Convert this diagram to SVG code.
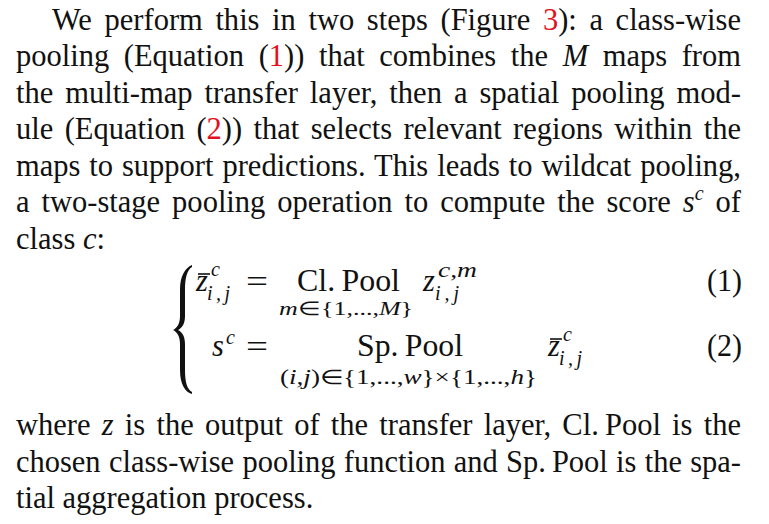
<svg xmlns="http://www.w3.org/2000/svg" width="769" height="524" viewBox="0 0 769 524">
<style>
.t{font-family:"Liberation Serif","Times New Roman",serif;font-size:30.5px;fill:#111}
.i{font-style:italic}
.r{fill:#e3101e}
.s{font-size:20px}
.ss{font-size:19px}
.brace{fill:#111}
</style>
<rect width="769" height="524" fill="#fff"/>
<g id="paragraph1">
<text class="t" x="52" y="29.5" word-spacing="5" textLength="689" lengthAdjust="spacingAndGlyphs">We perform this in two steps (Figure <tspan class="r">3</tspan>):  a class-wise</text>
<text class="t" x="16" y="66" word-spacing="7" textLength="725" lengthAdjust="spacingAndGlyphs">pooling (Equation (<tspan class="r">1</tspan>)) that combines the <tspan class="i">M</tspan> maps from</text>
<text class="t" x="16" y="102.5" word-spacing="4.3" textLength="725" lengthAdjust="spacingAndGlyphs">the multi-map transfer layer, then a spatial pooling mod-</text>
<text class="t" x="16" y="139" word-spacing="3.8" textLength="725" lengthAdjust="spacingAndGlyphs">ule (Equation (<tspan class="r">2</tspan>)) that selects relevant regions within the</text>
<text class="t" x="16" y="175.5" word-spacing="1.3" textLength="725" lengthAdjust="spacingAndGlyphs">maps to support predictions. This leads to wildcat pooling,</text>
<text class="t" x="16" y="212" word-spacing="4.3" textLength="725" lengthAdjust="spacingAndGlyphs">a two-stage pooling operation to compute the score <tspan class="i">s</tspan><tspan class="i s" dy="-12">c</tspan><tspan dy="12"> of</tspan></text>
<text class="t" x="16" y="248.5">class <tspan class="i">c</tspan>:</text>
</g>
<g id="equations">
<path class="brace" d="M192,265 C185,268 180,276 180,290 L180,316 C180,324 177,328 173,330 C177,332 180,336 180,344 L180,370 C180,384 185,392 192,394 L192,392 C187,389 185,382 185,370 L185,344 C185,336 182,332 178,330 C182,328 185,324 185,316 L185,290 C185,278 187,270 192,267 Z"/>
<g id="eq1">
<text class="t i" x="196" y="291">z</text>
<line x1="198" y1="274" x2="210" y2="274" stroke="#111" stroke-width="1.6"/>
<text class="t i s" x="211" y="276">c</text>
<text class="t i s" x="207" y="300" textLength="23" lengthAdjust="spacing">i,j</text>
<text class="t" x="246" y="292" textLength="22" lengthAdjust="spacingAndGlyphs">=</text>
<text class="t" x="297" y="291" textLength="103" lengthAdjust="spacingAndGlyphs">Cl.&#8201;Pool</text>
<text class="t ss" x="279" y="314.5" textLength="134" lengthAdjust="spacingAndGlyphs"><tspan class="i">m</tspan>∈{1,...,<tspan class="i">M</tspan>}</text>
<text class="t i" x="423" y="291">z</text>
<text class="t i s" x="438" y="277" textLength="39" lengthAdjust="spacingAndGlyphs">c,m</text>
<text class="t i s" x="435" y="300" textLength="24" lengthAdjust="spacing">i,j</text>
<text class="t" x="707" y="291" textLength="35" lengthAdjust="spacingAndGlyphs">(1)</text>
</g>
<g id="eq2">
<text class="t i" x="212" y="356">s</text>
<text class="t i s" x="226" y="344">c</text>
<text class="t" x="246" y="357" textLength="22" lengthAdjust="spacingAndGlyphs">=</text>
<text class="t" x="357" y="356" textLength="106" lengthAdjust="spacingAndGlyphs">Sp.&#8201;Pool</text>
<text class="t s" x="280" y="384" textLength="257" lengthAdjust="spacingAndGlyphs">(<tspan class="i">i,j</tspan>)∈{1,...,<tspan class="i">w</tspan>}×{1,...,<tspan class="i">h</tspan>}</text>
<text class="t i" x="548" y="356">z</text>
<line x1="550" y1="339" x2="562" y2="339" stroke="#111" stroke-width="1.6"/>
<text class="t i s" x="563" y="341">c</text>
<text class="t i s" x="559" y="365" textLength="23" lengthAdjust="spacing">i,j</text>
<text class="t" x="707" y="356" textLength="35" lengthAdjust="spacingAndGlyphs">(2)</text>
</g>
</g>
<g id="paragraph2">
<text class="t" x="16" y="435" word-spacing="3.6" textLength="725" lengthAdjust="spacingAndGlyphs">where <tspan class="i">z</tspan> is the output of the transfer layer, Cl.&#8201;Pool is the</text>
<text class="t" x="16" y="471.5" word-spacing="0.7" textLength="725" lengthAdjust="spacingAndGlyphs">chosen class-wise pooling function and Sp.&#8201;Pool is the spa-</text>
<text class="t" x="16" y="508">tial aggregation process.</text>
</g>
</svg>
